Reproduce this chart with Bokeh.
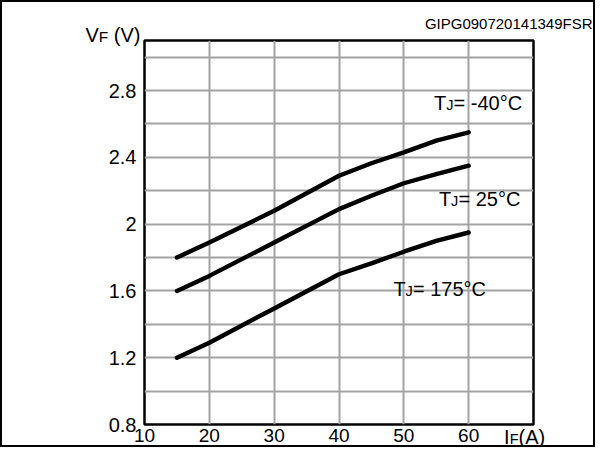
from bokeh.plotting import figure
from bokeh.models import FixedTicker, Label, Range1d
from bokeh.embed import file_html
from bokeh.resources import INLINE

# ---- data ----
current_a = [15, 20, 30, 40, 45, 50, 55, 60]
vf_tj_m40 = [1.80, 1.89, 2.08, 2.29, 2.365, 2.43, 2.50, 2.55]
vf_tj_25 = [1.60, 1.69, 1.89, 2.09, 2.17, 2.245, 2.30, 2.35]
vf_tj_175 = [1.20, 1.29, 1.495, 1.70, 1.765, 1.835, 1.90, 1.95]

x_ticks = [10, 20, 30, 40, 50, 60]
x_grid = [20, 30, 40, 50, 60]
y_ticks = [0.8, 1.2, 1.6, 2.0, 2.4, 2.8]
y_tick_labels = ["0.8", "1.2", "1.6", "2", "2.4", "2.8"]
y_grid = [1.0, 1.2, 1.4, 1.6, 1.8, 2.0, 2.2, 2.4, 2.6, 2.8, 3.0]

series_labels = ["= -40°C", "= 25°C", "= 175°C"]

FONT = "Liberation Sans"
DESC = 0.212  # font descent, in em
W, H = 595, 447
BL, BR, BT, BB = 142, 64, 38, 25
Y0, Y1 = 0.8, 3.1
DPP = (Y1 - Y0) / (H - BT - BB)   # data units per pixel (y)

p = figure(width=W, height=H, x_range=Range1d(10, 70), y_range=Range1d(Y0, Y1),
           output_backend="svg", toolbar_location=None,
           min_border_left=BL, min_border_right=BR, min_border_top=BT, min_border_bottom=BB)
p.styles = {"border": "2px solid black"}
p.background_fill_color = "white"
p.border_fill_color = "white"
p.outline_line_color = "black"
p.outline_line_width = 2.5

for ax in (p.xaxis, p.yaxis):
    ax.axis_line_color = None
    ax.major_tick_line_color = None
    ax.minor_tick_line_color = None
    ax.major_tick_out = 0
    ax.major_tick_in = 0
    ax.minor_tick_out = 0
    ax.minor_tick_in = 0
    ax.major_label_text_font = FONT
    ax.major_label_text_color = "black"

p.xaxis.ticker = FixedTicker(ticks=x_ticks)
p.xaxis.major_label_text_font_size = "19px"
p.xaxis.major_label_standoff = 4
p.yaxis.ticker = FixedTicker(ticks=y_ticks)
p.yaxis.major_label_overrides = {float(t): s for t, s in zip(y_ticks, y_tick_labels)}
p.yaxis.major_label_text_font_size = "20px"
p.yaxis.major_label_standoff = 8

p.xgrid.ticker = FixedTicker(ticks=x_grid)
p.ygrid.ticker = FixedTicker(ticks=y_grid)
for g in (p.xgrid, p.ygrid):
    g.grid_line_color = "#a3a3a3"
    g.grid_line_width = 2

for vf in (vf_tj_m40, vf_tj_25, vf_tj_175):
    p.line(current_a, vf, line_color="black", line_width=4.4, line_cap="round", line_join="round")

# ---- annotation texts (anchored at the text bottom; baseline = bottom - descent) ----
def ypos(baseline, size, units):
    if units == "canvas":
        return baseline + DESC * size
    return baseline - DESC * size * DPP

def composite(x, baseline, parts, bg_text=None, units="data", place="center"):
    if bg_text is not None:
        p.add_layout(Label(x=x, y=ypos(baseline, 20, units), x_offset=-6, text=bg_text,
                           text_font=FONT, text_font_size="20px", text_alpha=0,
                           text_baseline="bottom", background_fill_color="white"))
    off = 0.0
    for txt, size, w in parts:
        p.add_layout(Label(x=x, y=ypos(baseline, size, units), x_offset=off,
                           x_units=units, y_units=units, text=txt, text_font=FONT,
                           text_font_size=f"{size}px", text_color="black",
                           text_baseline="bottom", text_align="left"), place)
        off += w

label_pos = [(54.66, 2.686), (55.41, 2.108), (48.39, 1.569)]
for (lx, ly), rest in zip(label_pos, series_labels):
    composite(lx, ly, [("T", 20, 12.2), ("J", 14.5, 7.3), (rest, 20, 0)],
              bg_text="\u00a0TJ" + rest + "\u00a0")

# texts outside the plot frame (canvas pixel units)
composite(81, 37.5, [("V", 20, 13.3), ("F", 15.5, 9.5), ("\u00a0(V)", 20, 0)],
          units="canvas", place="left")
composite(499.6, 439.0, [("I", 20, 5.6), ("F", 14.5, 8.9), ("(A)", 20, 0)],
          units="canvas", place="left")

p.add_layout(Label(x=588, y=ypos(24.5, 15, "canvas"), x_units="canvas", y_units="canvas",
                   text="GIPG090720141349FSR", text_font=FONT,
                   text_font_size="15px", text_color="black", text_align="right",
                   text_baseline="bottom"), "above")

open("out.html", "w").write(file_html(p, INLINE))
